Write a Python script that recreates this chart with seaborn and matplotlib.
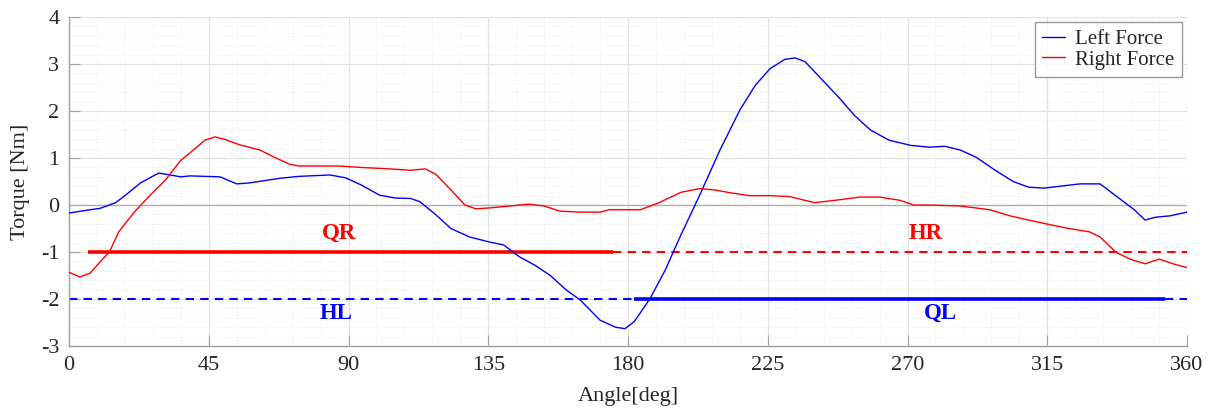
import numpy as np
import pandas as pd
import matplotlib
matplotlib.use("Agg")
import matplotlib.pyplot as plt
import seaborn as sns
from matplotlib.ticker import MultipleLocator

left_angle = [0, 6.8, 10, 15, 18, 23, 28, 29, 32.5, 36, 39, 48.6, 54, 58, 68, 74, 84, 89, 94, 100,
              105, 110, 113, 118, 123, 129, 135.6, 140, 145, 150, 155, 160, 164.6, 171, 176, 179,
              182, 187, 192, 197, 203, 209.6, 216, 221, 225.7, 230.5, 233.8, 237, 242, 248, 253,
              258, 264, 271, 277, 282, 287, 292, 298, 304, 309, 314, 319, 325.6, 332, 338, 343,
              346.5, 349.7, 354.5, 360]
left_torque = [-0.17, -0.1, -0.07, 0.05, 0.2, 0.47, 0.65, 0.68, 0.64, 0.6, 0.62, 0.6, 0.45, 0.47,
               0.57, 0.61, 0.64, 0.58, 0.43, 0.21, 0.15, 0.14, 0.07, -0.2, -0.5, -0.68, -0.79,
               -0.85, -1.1, -1.28, -1.5, -1.8, -2.02, -2.45, -2.6, -2.63, -2.48, -2.0, -1.38,
               -0.64, 0.2, 1.17, 2.02, 2.55, 2.9, 3.1, 3.13, 3.05, 2.7, 2.28, 1.9, 1.6, 1.38,
               1.27, 1.23, 1.25, 1.17, 1.02, 0.75, 0.5, 0.38, 0.36, 0.4, 0.45, 0.45, 0.15, -0.1,
               -0.32, -0.26, -0.23, -0.15]

right_angle = [0, 3.5, 6.8, 10, 13, 16, 21, 26, 31, 36, 40.6, 43.8, 47, 50, 55, 61.5, 66, 71, 74,
               87, 94, 103, 110, 114.6, 118, 123, 127.5, 131, 135.6, 142, 148, 153, 158, 164.5,
               171, 174, 184, 190, 197, 203, 208, 213, 219, 225.7, 232, 237, 240, 246.6, 254.7,
               261, 267.6, 272, 277, 287, 296.5, 303, 309, 316, 322, 328.6, 332, 337, 341.6,
               346.5, 351, 356, 360]
right_torque = [-1.43, -1.53, -1.45, -1.21, -1.0, -0.57, -0.15, 0.2, 0.53, 0.95, 1.2, 1.38, 1.45,
                1.4, 1.28, 1.17, 1.02, 0.87, 0.83, 0.83, 0.8, 0.77, 0.74, 0.77, 0.66, 0.32, 0.0,
                -0.08, -0.06, -0.02, 0.02, -0.02, -0.13, -0.15, -0.15, -0.1, -0.1, 0.05, 0.27,
                0.35, 0.32, 0.26, 0.2, 0.2, 0.18, 0.1, 0.05, 0.1, 0.17, 0.17, 0.1, 0.0, 0.0,
                -0.02, -0.1, -0.23, -0.32, -0.42, -0.5, -0.57, -0.68, -1.0, -1.15, -1.25, -1.15,
                -1.26, -1.33]

series_names = ["Left Force", "Right Force"]
series_colors = ["#0000ff", "#ff0000"]

# phase reference lines
qr_span = [6, 175]
hr_span = [175, 360]
hl_span = [0, 182]
ql_span = [182, 353]
hl_tail = [353, 360]
right_level = -1
left_level = -2
phase_labels = ["QR", "HR", "HL", "QL"]
label_pos_x = [87, 276, 86, 280.5]
label_pos_y = [-0.6, -0.6, -2.3, -2.3]

x_ticks = [0, 45, 90, 135, 180, 225, 270, 315, 360]
y_ticks = [-3, -2, -1, 0, 1, 2, 3, 4]

sns.set_style("whitegrid")
plt.rcParams['font.family'] = ['Liberation Serif', 'DejaVu Serif']
plt.rcParams['axes.unicode_minus'] = False

df = pd.concat([
    pd.DataFrame({"Angle": left_angle, "Torque": left_torque, "Series": series_names[0]}),
    pd.DataFrame({"Angle": right_angle, "Torque": right_torque, "Series": series_names[1]}),
])

fig = plt.figure(figsize=(12.15, 4.11), dpi=100)
ax = fig.add_axes([0.0568, 0.158, 0.977 - 0.0568, 0.9586 - 0.158])

sns.lineplot(data=df, x="Angle", y="Torque", hue="Series", palette=series_colors,
             linewidth=1.0, ax=ax, sort=False, zorder=3)

ax.plot(qr_span, [right_level] * 2, color="#ff0000", lw=2.6, solid_capstyle="butt", zorder=2)
ax.plot(hr_span, [right_level] * 2, color="#ff0000", lw=1.5, ls=(0, (4, 3)), zorder=2)
ax.plot(hl_span, [left_level] * 2, color="#0000ff", lw=1.5, ls=(0, (4, 3)), zorder=2)
ax.plot(ql_span, [left_level] * 2, color="#0000ff", lw=2.6, solid_capstyle="butt", zorder=2)
ax.plot(hl_tail, [left_level] * 2, color="#0000ff", lw=1.5, ls=(0, (4, 3)), zorder=2)

label_colors = ["#ff0000", "#ff0000", "#0000ff", "#0000ff"]
for t, x, y, c in zip(phase_labels, label_pos_x, label_pos_y, label_colors):
    ax.text(x, y, t, color=c, fontsize=16.5, fontweight="bold", ha="center", va="center")

ax.axhline(0, color="#b0b0b0", lw=1.0, zorder=1)

ax.set_xlim(0, 360)
ax.set_ylim(-3, 4)
ax.set_xticks(x_ticks)
ax.set_yticks(y_ticks)
ax.xaxis.set_minor_locator(MultipleLocator(9))
ax.yaxis.set_minor_locator(MultipleLocator(0.2))
ax.grid(which="major", color="#e2e2e2", lw=0.9, ls="-")
ax.grid(which="minor", color="#ececec", lw=0.7, ls=":")
ax.set_axisbelow(True)
ax.tick_params(axis="both", which="major", direction="in", length=8, color="#a0a0a0",
               labelsize=16, labelcolor="#262626", pad=7, bottom=True, left=True)
ax.tick_params(axis="both", which="minor", length=0)
for s in ["top", "right"]:
    ax.spines[s].set_visible(False)
for s in ["left", "bottom"]:
    ax.spines[s].set_color("#a0a0a0")
    ax.spines[s].set_linewidth(1.0)

ax.set_xlabel("Angle[deg]", fontsize=16, labelpad=9, color="#262626")
ax.set_ylabel("Torque [Nm]", fontsize=16, labelpad=8, color="#262626")

leg = ax.legend(loc="upper right", fontsize=15, frameon=True, fancybox=False,
                handlelength=1.1, handletextpad=0.5, borderpad=0.35, labelspacing=0.05,
                borderaxespad=0.25)
leg.get_frame().set_edgecolor("#808080")
leg.get_frame().set_linewidth(1.0)

fig.savefig("out.png", dpi=100)
